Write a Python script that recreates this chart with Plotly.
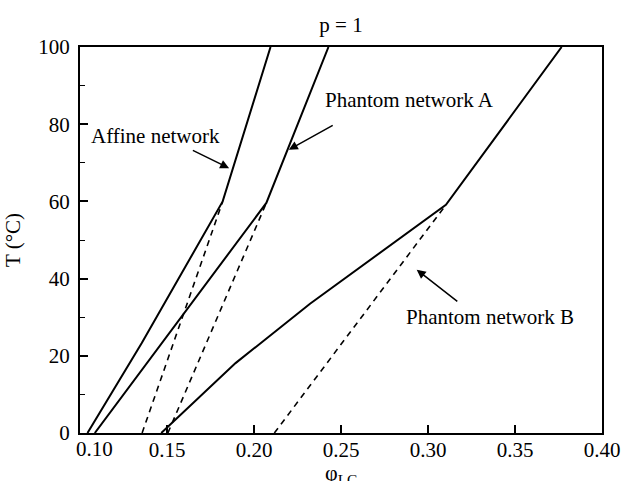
import plotly.graph_objects as go

# ---- data ----
affine_x = [0.1043, 0.1355, 0.182, 0.2095]
affine_y = [0, 23.3, 60, 100]

phantomA_x = [0.1085, 0.2071, 0.2428]
phantomA_y = [0, 59.6, 100]

phantomB_x = [0.1467, 0.1894, 0.2322, 0.3103, 0.3768]
phantomB_y = [0, 18.1, 33.5, 59.1, 100]

dashAffine_x = [0.1357, 0.182]
dashAffine_y = [0, 60]
dashA_x = [0.1505, 0.2071]
dashA_y = [0, 59.6]
dashB_x = [0.2117, 0.3103]
dashB_y = [0, 59.1]

x_ticks = [0.10, 0.15, 0.20, 0.25, 0.30, 0.35, 0.40]
x_ticklabels = ["0.10", "0.15", "0.20", "0.25", "0.30", "0.35", "0.40"]
y_ticks = [0, 20, 40, 60, 80, 100]
y_ticklabels = ["0", "20", "40", "60", "80", "100"]

FONT = "Liberation Serif, Times New Roman, serif"
fig = go.Figure()

solid = dict(color="black", width=2)
dashed = dict(color="black", width=1.6, dash="6px,5px")

for xs, ys in [(affine_x, affine_y), (phantomA_x, phantomA_y), (phantomB_x, phantomB_y)]:
    fig.add_trace(go.Scatter(x=xs, y=ys, mode="lines", line=solid, showlegend=False, hoverinfo="skip"))
for xs, ys in [(dashAffine_x, dashAffine_y), (dashA_x, dashA_y), (dashB_x, dashB_y)]:
    fig.add_trace(go.Scatter(x=xs, y=ys, mode="lines", line=dashed, showlegend=False, hoverinfo="skip"))

ann_font = dict(family=FONT, size=21, color="black")
arrow = dict(xref="x", yref="y", axref="x", ayref="y", text="", showarrow=True,
             arrowhead=2, arrowsize=1.2, arrowwidth=1.5, arrowcolor="black")
annotations = [
    dict(x=0.105, y=77, text="Affine network", showarrow=False, xanchor="left", yanchor="middle", font=ann_font),
    dict(x=0.2394, y=86.3, text="Phantom network A", showarrow=False, xanchor="left", yanchor="middle", font=ann_font),
    dict(x=0.2861, y=30, text="Phantom network B", showarrow=False, xanchor="left", yanchor="middle", font=ann_font),
    dict(x=0.1857, y=68.6, ax=0.1640, ay=73.4, **arrow),
    dict(x=0.2200, y=73.4, ax=0.2461, ay=79.9, **arrow),
    dict(x=0.2935, y=42.3, ax=0.3177, ay=33.8, **arrow),
    # first x tick label, nudged right of the corner as in the reference
    dict(x=x_ticks[0], y=0, xref="x", yref="paper", text=x_ticklabels[0], showarrow=False,
         xanchor="left", yanchor="top", xshift=-6, yshift=-2, font=ann_font),
    dict(x=0.5, y=-0.066, xref="paper", yref="paper", text="φ<sub>LC</sub>", showarrow=False,
         xanchor="center", yanchor="top", font=dict(family=FONT, size=22, color="black")),
]

fig.update_layout(
    width=632, height=481,
    margin=dict(l=73, r=21, t=47, b=48),
    paper_bgcolor="white", plot_bgcolor="white",
    font=dict(family=FONT, size=21, color="black"),
    title=dict(text="p = 1", x=0.5, xanchor="center", xref="paper", y=1 - 25 / 481, yanchor="middle",
               font=dict(family=FONT, size=21, color="black")),
    annotations=annotations,
    showlegend=False,
)

fig.update_xaxes(
    range=[0.1, 0.4], tickvals=x_ticks, ticktext=[""] + x_ticklabels[1:],
    showline=True, linecolor="black", linewidth=2, mirror=True,
    ticks="inside", ticklen=8, tickwidth=1.5, tickcolor="black",
    showgrid=False, zeroline=False, tickfont=dict(family=FONT, size=21),
    ticklabelstandoff=-3,
)
fig.update_yaxes(
    range=[0, 100], tickvals=y_ticks, ticktext=y_ticklabels,
    showline=True, linecolor="black", linewidth=2, mirror=True,
    ticks="inside", ticklen=8, tickwidth=1.5, tickcolor="black",
    minor=dict(ticks="inside", ticklen=5, tickwidth=1.2, tickcolor="black", dtick=10),
    showgrid=False, zeroline=False, tickfont=dict(family=FONT, size=21),
    ticklabelstandoff=4,
    title=dict(text="T (°C)", font=dict(family=FONT, size=21), standoff=12),
)

fig.write_html("out.html")
